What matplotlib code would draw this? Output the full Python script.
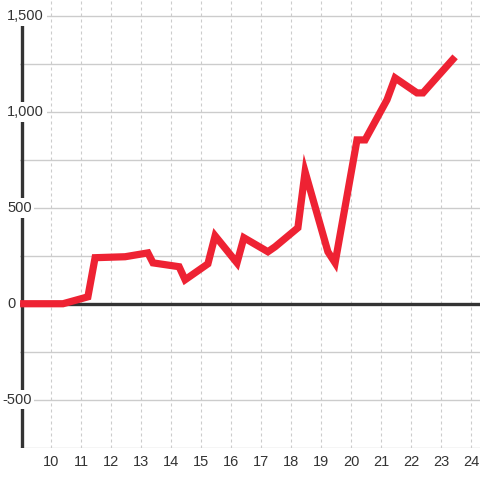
import numpy as np
from matplotlib import pyplot as plt

# series values
xs = [8.97, 10.4, 11.23, 11.47, 12.47, 13.23, 13.4, 14.27, 14.47, 15.23, 15.47,
      16.2, 16.43, 17.23, 17.47, 18.23, 18.47, 19.23, 19.47, 20.2, 20.47,
      21.2, 21.47, 22.2, 22.4, 23.47]
ys = [0, 0, 36, 240, 245, 265, 213, 193, 125, 208, 354,
      213, 344, 271, 297, 396, 688, 271, 213, 854, 854,
      1063, 1177, 1099, 1099, 1287]

xticks = list(range(10, 25))
yticks_major = [-500, 0, 500, 1000, 1500]
ytick_labels = ['-500', '0', '500', '1,000', '1,500']
ygrid = [-750, -500, -250, 0, 250, 500, 750, 1000, 1250, 1500]

plt.rcParams['font.family'] = ['Liberation Sans', 'DejaVu Sans']
fig = plt.figure(figsize=(4.8, 4.8), dpi=100)
ax = fig.add_axes([20/480, 32/480, 460/480, 448/480])
ax.set_xlim(8.967, 24.3)
ax.set_ylim(-752, 1583.3)
for s in ax.spines.values():
    s.set_visible(False)

for y in ygrid:
    ax.axhline(y, color='#cccccc', lw=1, zorder=1)
for x in xticks:
    ax.axvline(x, color='#cccccc', lw=0.8, ls=(0, (2.7, 2.7)), zorder=1)

ax.axhline(0, color='#333333', lw=2.4, zorder=2)
ax.axvline(ax.get_xlim()[0] + 0.05, ymin=0, ymax=(1500 + 752) / (1583.3 + 752),
           color='#333333', lw=2.4, zorder=2)

ax.plot(xs, ys, color='#ee2233', lw=5.2, solid_joinstyle='miter',
        solid_capstyle='butt', zorder=3)

ax.set_xticks(xticks)
ax.set_xticklabels([str(x) for x in xticks], fontsize=10.5, color='#333333')
ax.tick_params(axis='x', length=0, pad=5)
ax.set_yticks([])

tr = ax.get_yaxis_transform()
for v, lab in zip(yticks_major, ytick_labels):
    xoff = (2 - 20) / 460 if lab.startswith('-') else (7 - 20) / 460
    ax.text(xoff, v, lab, transform=tr, ha='left', va='center', fontsize=10.5,
            color='#333333', zorder=4, clip_on=False,
            bbox=dict(facecolor='white', edgecolor='none', pad=2))

fig.savefig('out.png', dpi=100)
